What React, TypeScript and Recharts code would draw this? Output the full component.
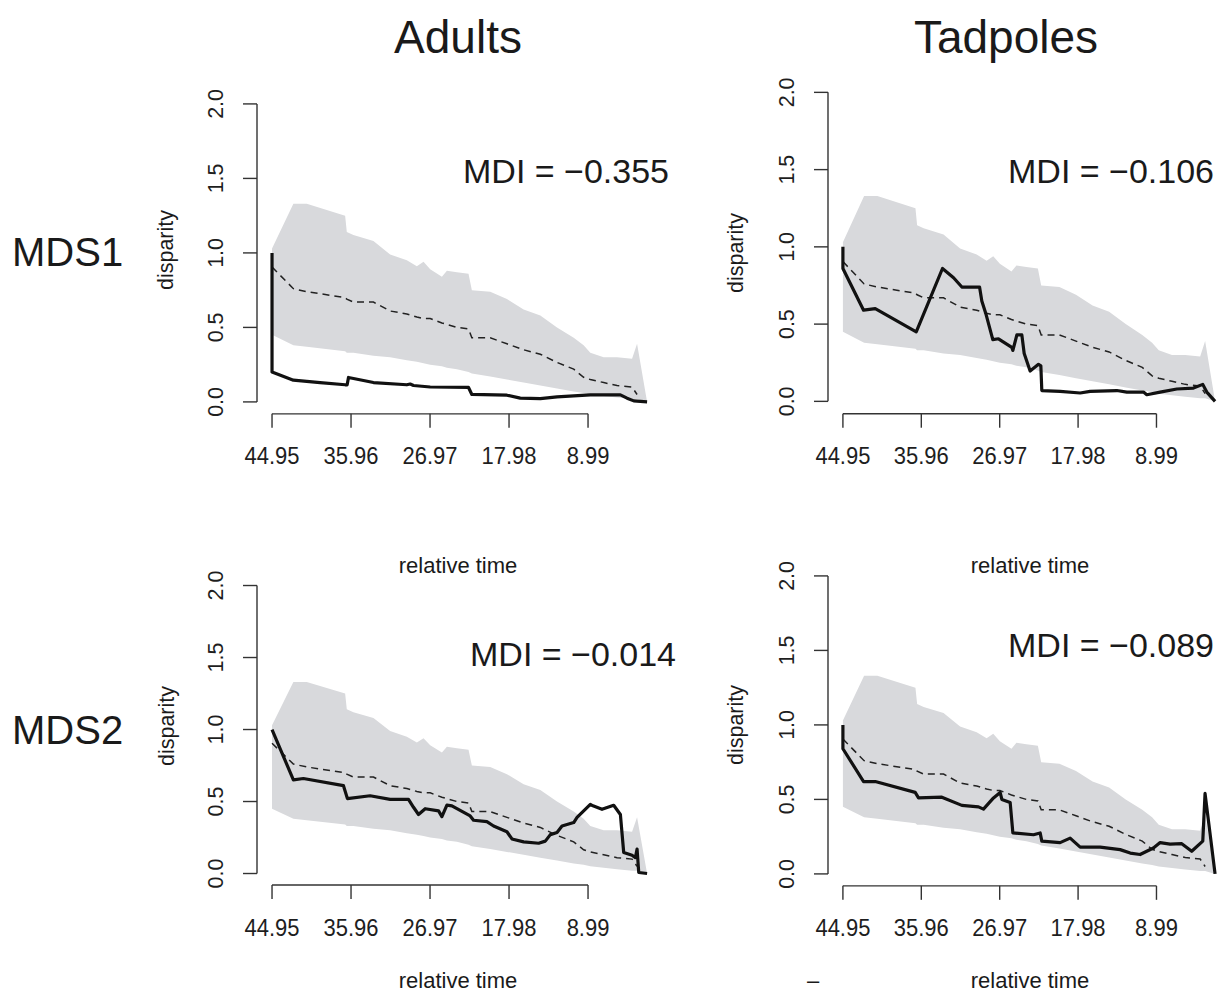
import React from "react";
import { ComposedChart, Area, Line, XAxis, YAxis, ReferenceLine } from "recharts";

// ---------- shared axis ticks ----------
const xTicks = [44.95, 35.96, 26.97, 17.98, 8.99];
const yTicks = [0, 0.5, 1.0, 1.5, 2.0];

// ---------- null model envelope (grey band) and its median (dashed) ----------
const bandTime = [44.95, 42.52, 41.0, 36.63, 36.44, 35.69, 33.41, 31.51, 29.61, 28.47, 27.71, 26.95, 25.62, 25.05, 23.91, 22.59, 22.21, 20.12, 18.22, 16.32, 14.42, 12.52, 10.62, 9.49, 8.73, 7.21, 5.69, 3.98, 3.41, 2.27];
const bandHigh = [1.03, 1.33, 1.33, 1.25, 1.14, 1.12, 1.08, 0.99, 0.95, 0.91, 0.94, 0.89, 0.84, 0.88, 0.87, 0.86, 0.75, 0.74, 0.69, 0.62, 0.58, 0.5, 0.43, 0.38, 0.33, 0.3, 0.3, 0.29, 0.39, 0.0];
const bandLow = [0.45, 0.38, 0.37, 0.34, 0.33, 0.33, 0.31, 0.3, 0.28, 0.27, 0.26, 0.25, 0.24, 0.23, 0.22, 0.2, 0.19, 0.17, 0.15, 0.13, 0.11, 0.09, 0.07, 0.06, 0.05, 0.04, 0.03, 0.02, 0.02, 0.0];
const nullMedian = [0.905, 0.76, 0.74, 0.7, 0.69, 0.67, 0.67, 0.61, 0.59, 0.57, 0.56, 0.56, 0.53, 0.52, 0.5, 0.49, 0.43, 0.43, 0.39, 0.35, 0.32, 0.265, 0.22, 0.165, 0.15, 0.13, 0.11, 0.1, 0.05, null];

// ---------- observed disparity through time ----------
const adultsMds1Time = [44.95, 44.95, 42.52, 39.48, 36.63, 36.4, 36.25, 33.41, 29.61, 29.23, 28.85, 26.95, 22.59, 22.21, 18.22, 16.7, 14.42, 12.52, 10.62, 8.73, 5.31, 4.55, 3.79, 2.27];
const adultsMds1Value = [1.0, 0.2, 0.146, 0.13, 0.115, 0.115, 0.164, 0.13, 0.115, 0.12, 0.11, 0.1, 0.097, 0.05, 0.045, 0.025, 0.022, 0.034, 0.04, 0.047, 0.047, 0.025, 0.007, 0.0];

const tadpolesMds1Time = [44.95, 44.95, 42.58, 41.24, 36.54, 33.53, 32.26, 31.31, 29.28, 29.02, 28.52, 27.76, 27.11, 25.58, 25.46, 25.0, 24.43, 24.16, 23.48, 22.52, 22.25, 22.14, 20.04, 17.74, 16.6, 13.54, 12.39, 10.48, 10.1, 8.57, 6.66, 4.75, 3.68, 3.22, 2.27];
const tadpolesMds1Value = [1.0, 0.86, 0.59, 0.6, 0.45, 0.86, 0.8, 0.74, 0.74, 0.65, 0.56, 0.4, 0.405, 0.35, 0.33, 0.43, 0.43, 0.31, 0.196, 0.24, 0.23, 0.07, 0.065, 0.054, 0.065, 0.07, 0.06, 0.06, 0.043, 0.06, 0.08, 0.086, 0.11, 0.06, 0.0];

const adultsMds2Time = [44.95, 42.52, 41.38, 36.82, 36.37, 33.79, 31.51, 29.42, 28.85, 28.28, 27.52, 26.0, 25.62, 25.05, 24.48, 22.4, 22.02, 20.5, 19.74, 18.22, 17.65, 16.32, 14.61, 13.85, 13.28, 12.52, 11.95, 10.62, 10.24, 8.73, 8.43, 7.4, 6.07, 5.31, 4.93, 3.98, 3.6, 3.41, 3.22, 2.27];
const adultsMds2Value = [1.0, 0.65, 0.66, 0.61, 0.52, 0.54, 0.515, 0.515, 0.46, 0.41, 0.45, 0.435, 0.395, 0.475, 0.47, 0.4, 0.37, 0.36, 0.33, 0.29, 0.24, 0.22, 0.21, 0.225, 0.27, 0.285, 0.33, 0.354, 0.39, 0.48, 0.47, 0.446, 0.474, 0.41, 0.146, 0.127, 0.11, 0.17, 0.007, 0.0];

const tadpolesMds2Time = [44.95, 44.95, 42.58, 41.24, 36.66, 36.28, 33.6, 31.31, 29.4, 28.83, 27.68, 26.92, 26.72, 25.77, 25.46, 23.09, 22.33, 22.14, 20.04, 18.89, 17.74, 15.45, 13.16, 12.0, 10.87, 9.34, 8.57, 7.43, 6.09, 4.95, 3.68, 3.42, 2.27];
const tadpolesMds2Value = [1.0, 0.84, 0.62, 0.62, 0.547, 0.51, 0.515, 0.46, 0.45, 0.435, 0.51, 0.547, 0.5, 0.48, 0.275, 0.263, 0.275, 0.22, 0.21, 0.24, 0.18, 0.18, 0.163, 0.14, 0.13, 0.174, 0.21, 0.2, 0.203, 0.152, 0.22, 0.54, 0.0];

const mdiLabels = ["MDI = \u22120.355", "MDI = \u22120.106", "MDI = \u22120.014", "MDI = \u22120.089"];

// ---------- build tables ----------
const bandData = bandTime.map((t, i) => ({ t, range: [bandLow[i], bandHigh[i]], med: nullMedian[i] }));
const toSeries = (ts: number[], vs: number[]) => ts.map((t, i) => ({ t, v: vs[i] }));

const FONT = "'Liberation Sans', Arial, Helvetica, sans-serif";
const X0 = 46.66;
const X1 = 0.54;
const Y0 = -0.08;
const Y1 = 2.08;
const ML = 130, MT = 30, MR = 40, MB = 90, YW = 60, XH = 60;

type Geom = { x44: number; kx: number; y0: number; y2: number };

function Panel({ g, series }: { g: Geom; series: { t: number; v: number }[] }) {
  const plotLeft = g.x44 - (X0 - 44.95) * g.kx;
  const plotW = (X0 - X1) * g.kx;
  const ky = (g.y0 - g.y2) / 2;
  const plotTop = g.y2 - (Y1 - 2) * ky;
  const plotH = (Y1 - Y0) * ky;
  const W = plotW + ML + MR;
  const H = plotH + MT + MB;

  const XTick = (p: any) => (
    <text
      transform={`translate(${p.x} ${MT + plotH + 42}) scale(1 1.12)`}
      x={0}
      y={0}
      dy="0.35em"
      textAnchor="middle"
      fontSize={22}
      fill="#1e1e1e"
      fontFamily={FONT}
    >
      {Number(p.payload.value).toFixed(2)}
    </text>
  );
  const YTick = (p: any) => {
    const x = ML - 42;
    return (
      <text x={x} y={p.y} dy="0.35em" transform={`rotate(-90 ${x} ${p.y})`} textAnchor="middle" fontSize={21.5} fill="#1e1e1e" fontFamily={FONT}>
        {Number(p.payload.value).toFixed(1)}
      </text>
    );
  };

  return (
    <div style={{ position: "absolute", left: plotLeft - ML, top: plotTop - MT, width: W, height: H }}>
      <ComposedChart width={W} height={H} data={bandData} margin={{ top: MT, right: MR, bottom: MB - XH, left: ML - YW }}>
        <XAxis
          type="number"
          dataKey="t"
          domain={[X1, X0]}
          reversed
          ticks={xTicks}
          tick={XTick}
          tickSize={14}
          tickLine={{ stroke: "#333", strokeWidth: 1.4 }}
          axisLine={false}
          height={XH}
          allowDataOverflow
        />
        <YAxis
          type="number"
          domain={[Y0, Y1]}
          ticks={yTicks}
          tick={YTick}
          tickSize={14}
          tickLine={{ stroke: "#333", strokeWidth: 1.4 }}
          axisLine={false}
          width={YW}
          allowDataOverflow
        />
        <Area dataKey="range" stroke="none" fill="#d8d9dc" fillOpacity={1} isAnimationActive={false} type="linear" />
        <Line dataKey="med" stroke="#222" strokeWidth={1.5} strokeDasharray="7 5" dot={false} isAnimationActive={false} type="linear" />
        <Line data={series} dataKey="v" stroke="#111" strokeWidth={3.2} dot={false} isAnimationActive={false} type="linear" strokeLinejoin="round" />
        <ReferenceLine ifOverflow="visible" segment={[{ x: 44.95, y: Y0 }, { x: 8.99, y: Y0 }]} stroke="#333" strokeWidth={1.4} />
        <ReferenceLine ifOverflow="visible" segment={[{ x: X0, y: 0 }, { x: X0, y: 2 }]} stroke="#333" strokeWidth={1.4} />
      </ComposedChart>
    </div>
  );
}

const geoms: Geom[] = [
  { x44: 272, kx: 8.788, y0: 402, y2: 104 },
  { x44: 843, kx: 8.72, y0: 401, y2: 92 },
  { x44: 272, kx: 8.788, y0: 874, y2: 586 },
  { x44: 843, kx: 8.72, y0: 874, y2: 576 },
];
const panelSeries = [
  toSeries(adultsMds1Time, adultsMds1Value),
  toSeries(tadpolesMds1Time, tadpolesMds1Value),
  toSeries(adultsMds2Time, adultsMds2Value),
  toSeries(tadpolesMds2Time, tadpolesMds2Value),
];
const mdiPos = [
  { x: 463, y: 183 },
  { x: 1008, y: 183 },
  { x: 470, y: 666 },
  { x: 1008, y: 657 },
];
const disparityPos = [
  { x: 165, y: 250 },
  { x: 735, y: 253 },
  { x: 166, y: 726 },
  { x: 735, y: 725 },
];
const timeLabelPos = [
  { x: 458, y: 565 },
  { x: 1030, y: 565 },
  { x: 458, y: 980 },
  { x: 1030, y: 980 },
];

export default function App() {
  return (
    <div style={{ position: "absolute", left: 0, top: 0, width: 1227, height: 996, background: "#fff", overflow: "hidden" }}>
      {geoms.map((g, i) => (
        <Panel key={i} g={g} series={panelSeries[i]} />
      ))}
      <svg width={1227} height={996} style={{ position: "absolute", left: 0, top: 0, pointerEvents: "none" }}>
        <g fontFamily={FONT} fill="#1a1a1a">
          <text x={458} y={53} fontSize={46} textAnchor="middle">Adults</text>
          <text x={1006} y={53} fontSize={46} textAnchor="middle">Tadpoles</text>
          <text x={12} y={266} fontSize={40}>MDS1</text>
          <text x={12} y={744} fontSize={40}>MDS2</text>
          {mdiLabels.map((m, i) => (
            <text key={m} x={mdiPos[i].x} y={mdiPos[i].y} fontSize={34}>{m}</text>
          ))}
          {disparityPos.map((p, i) => (
            <text key={i} x={p.x} y={p.y} dy="0.35em" fontSize={21.5} textAnchor="middle" transform={`rotate(-90 ${p.x} ${p.y})`}>disparity</text>
          ))}
          {timeLabelPos.map((p, i) => (
            <text key={i} x={p.x} y={p.y} dy="0.35em" fontSize={22} textAnchor="middle">relative time</text>
          ))}
          <text x={813} y={980} dy="0.35em" fontSize={22} textAnchor="middle">–</text>
        </g>
      </svg>
    </div>
  );
}
